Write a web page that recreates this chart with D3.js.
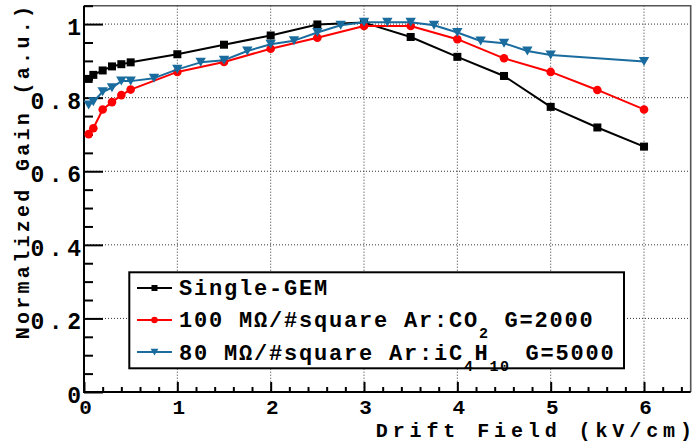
<!DOCTYPE html>
<html>
<head>
<meta charset="utf-8">
<script src="https://cdn.jsdelivr.net/npm/d3@7"></script>
<style>
  body { margin: 0; background: #fff; }
  svg { display: block; }
  text { font-family: "Liberation Mono", "DejaVu Sans Mono", monospace; font-weight: bold; fill: #000; }
</style>
</head>
<body>
<svg id="chart" width="695" height="443"></svg>
<script>
// Drift field scan (kV/cm) and normalized gain for each configuration
const fieldSingle = [0.05, 0.1, 0.2, 0.3, 0.4, 0.5, 1, 1.5, 2, 2.5, 3, 3.5, 4, 4.5, 5, 5.5, 6];
const gainSingle  = [0.851, 0.862, 0.874, 0.885, 0.891, 0.896, 0.918, 0.944, 0.969, 0.999, 1.004, 0.965, 0.911, 0.859, 0.775, 0.719, 0.667];

const fieldCO2 = [0.05, 0.1, 0.2, 0.3, 0.4, 0.5, 1, 1.5, 2, 2.5, 3, 3.5, 4, 4.5, 5, 5.5, 6];
const gainCO2  = [0.701, 0.717, 0.768, 0.788, 0.807, 0.822, 0.870, 0.897, 0.933, 0.963, 0.995, 0.995, 0.959, 0.907, 0.870, 0.821, 0.768];

const fieldIso = [0.05, 0.1, 0.2, 0.3, 0.4, 0.5, 0.75, 1, 1.25, 1.5, 1.75, 2, 2.25, 2.5, 2.75, 3, 3.25, 3.5, 3.75, 4, 4.25, 4.5, 4.75, 5, 6];
const gainIso  = [0.780, 0.789, 0.816, 0.827, 0.845, 0.845, 0.853, 0.877, 0.896, 0.902, 0.927, 0.945, 0.955, 0.977, 0.997, 1.005, 1.005, 1.005, 0.997, 0.977, 0.954, 0.948, 0.927, 0.916, 0.898];

const xTickValues = [0, 1, 2, 3, 4, 5, 6];
const xTickLabels = ["0", "1", "2", "3", "4", "5", "6"];
const yTickValues = [0, 0.2, 0.4, 0.6, 0.8, 1];
const yTickLabels = ["0", "0.2", "0.4", "0.6", "0.8", "1"];

const xTitle = "Drift Field (kV/cm)";
const yTitle = "Normalized Gain (a.u.)";

// Legend entries: text segments, subscript segments flagged
const legendSingle = [{ t: "Single-GEM" }];
const legendCO2 = [{ t: "100 M\u03A9/#square Ar:CO" }, { t: "2", sub: true }, { t: " G=2000" }];
const legendIso = [{ t: "80 M\u03A9/#square Ar:iC" }, { t: "4", sub: true }, { t: "H" }, { t: "10", sub: true }, { t: " G=5000" }];

const colSingle = "#000000";
const colCO2 = "#ff0000";
const colIso = "#1a6c9e";

const svg = d3.select("#chart");
const L = 84, R = 690.7, T = 5.7, B = 392;

const x = d3.scaleLinear().domain([0, 6.5]).range([L, R]);
const y = d3.scaleLinear().domain([0, 1.05]).range([B, T]);

// Spaced text whose last glyph carries no trailing letter-spacing
function spacedText(sel, str, ls) {
  sel.append("tspan").style("letter-spacing", ls + "px").text(str.slice(0, -1));
  sel.append("tspan").style("letter-spacing", "0px").text(str.slice(-1));
  return sel;
}

// Dotted grid at major ticks
const grid = svg.append("g");
grid.selectAll(".gx").data(xTickValues.filter(v => v > 0)).join("line")
  .attr("x1", d => x(d)).attr("x2", d => x(d)).attr("y1", T).attr("y2", B)
  .attr("stroke", "#333").attr("stroke-width", 1).attr("stroke-dasharray", "1,2");
grid.selectAll(".gy").data(yTickValues.filter(v => v > 0)).join("line")
  .attr("x1", L).attr("x2", R).attr("y1", d => y(d)).attr("y2", d => y(d))
  .attr("stroke", "#333").attr("stroke-width", 1).attr("stroke-dasharray", "1,2");

// Frame: top and right edges
svg.append("path")
  .attr("d", `M${L},${T}H${R}V${B}`)
  .attr("fill", "none").attr("stroke", "#555").attr("stroke-width", 1.6);

// Minor ticks
const xMinor = d3.range(0, 6.5001, 0.2).map(v => +v.toFixed(2)).filter(v => Math.abs(v - Math.round(v)) > 1e-6);
const yMinor = d3.range(0, 1.0501, 0.05).map(v => +v.toFixed(2)).filter(v => Math.abs(v * 5 - Math.round(v * 5)) > 1e-6);

const xAxisMinor = svg.append("g").attr("transform", `translate(0,${B})`)
  .call(d3.axisBottom(x).tickValues(xMinor).tickSize(-5).tickFormat(""));
const yAxisMinor = svg.append("g").attr("transform", `translate(${L},0)`)
  .call(d3.axisLeft(y).tickValues(yMinor).tickSize(-9).tickFormat(""));

// Major axes
const xAxis = svg.append("g").attr("transform", `translate(0,${B})`)
  .call(d3.axisBottom(x).tickValues(xTickValues).tickSize(-10)
    .tickFormat((d, i) => xTickLabels[i]));
const yAxis = svg.append("g").attr("transform", `translate(${L},0)`)
  .call(d3.axisLeft(y).tickValues(yTickValues).tickSize(-19)
    .tickFormat((d, i) => yTickLabels[i]));

[xAxisMinor, yAxisMinor, xAxis, yAxis].forEach(g => {
  g.select(".domain").remove();
  g.selectAll(".tick line").attr("stroke", "#000").attr("stroke-width", 2);
});

xAxis.selectAll(".tick text")
  .attr("y", 22).attr("dy", 0).attr("x", 1)
  .style("font-size", "21px").style("font-family", "Liberation Mono").style("font-weight", "bold");

const yLabelLS = 4.6;
yAxis.selectAll(".tick text").each(function (d, i) {
  const t = d3.select(this);
  t.text(null)
    .attr("x", -3).attr("dy", "0.45em")
    .attr("text-anchor", "end")
    .style("font-size", "23px")
    .style("font-family", "Liberation Mono").style("font-weight", "bold");
  if (yTickLabels[i].length > 1) spacedText(t, yTickLabels[i], yLabelLS);
  else t.text(yTickLabels[i]);
});

// Axis lines
svg.append("line").attr("x1", L).attr("x2", R).attr("y1", B).attr("y2", B)
  .attr("stroke", "#000").attr("stroke-width", 2);
svg.append("line").attr("x1", L).attr("x2", L).attr("y1", T).attr("y2", B + 1)
  .attr("stroke", "#000").attr("stroke-width", 2);

// Axis titles
spacedText(svg.append("text")
  .attr("x", 692).attr("y", 436.5)
  .attr("text-anchor", "end")
  .style("font-size", "20px"), xTitle, 4.9);

spacedText(svg.append("text")
  .attr("transform", "translate(29,6) rotate(-90)")
  .attr("text-anchor", "end")
  .style("font-size", "20px"), yTitle, 3.3);

// Marker shapes
function drawMarker(g, kind, cx, cy, color, scale) {
  const s = scale || 1;
  if (kind === "square") {
    g.append("rect").attr("x", cx - 4 * s).attr("y", cy - 4 * s)
      .attr("width", 8 * s).attr("height", 8 * s).attr("fill", color);
  } else if (kind === "circle") {
    g.append("circle").attr("cx", cx).attr("cy", cy).attr("r", 4.3 * s).attr("fill", color);
  } else {
    const w = 5.2 * s, h = 4.5 * s;
    g.append("path")
      .attr("d", `M${cx - w},${cy - h}L${cx + w},${cy - h}L${cx},${cy + h}Z`)
      .attr("fill", color);
  }
}

// Data series
const line = d3.line().x(d => x(d[0])).y(d => y(d[1]));
const series = [
  { f: fieldSingle, g: gainSingle, color: colSingle, marker: "square" },
  { f: fieldCO2, g: gainCO2, color: colCO2, marker: "circle" },
  { f: fieldIso, g: gainIso, color: colIso, marker: "triangle" }
];
series.forEach(s => {
  const pts = s.f.map((v, i) => [v, s.g[i]]);
  const g = svg.append("g");
  g.append("path").datum(pts).attr("d", line)
    .attr("fill", "none").attr("stroke", s.color).attr("stroke-width", 2)
    .attr("stroke-linejoin", "round");
  pts.forEach(p => drawMarker(g, s.marker, x(p[0]), y(p[1]), s.color));
});

// Legend
const lg = svg.append("g");
lg.append("rect").attr("x", 129.3).attr("y", 272.3).attr("width", 494.7).attr("height", 96)
  .attr("fill", "#fff").attr("stroke", "#000").attr("stroke-width", 2);

const legendRows = [
  { segs: legendSingle, color: colSingle, marker: "square", cy: 288, base: 295 },
  { segs: legendCO2, color: colCO2, marker: "circle", cy: 320, base: 327 },
  { segs: legendIso, color: colIso, marker: "triangle", cy: 352, base: 359.5 }
];
legendRows.forEach(r => {
  lg.append("line").attr("x1", 137).attr("x2", 172).attr("y1", r.cy).attr("y2", r.cy)
    .attr("stroke", r.color).attr("stroke-width", 2);
  drawMarker(lg, r.marker, 154.5, r.cy, r.color, 0.75);
  const t = lg.append("text").attr("x", 179).attr("y", r.base)
    .style("font-size", "22px").style("letter-spacing", "1.8px");
  let shifted = false;
  r.segs.forEach(seg => {
    const ts = t.append("tspan").text(seg.t);
    if (seg.sub && !shifted) { ts.attr("dy", 11); shifted = true; }
    else if (!seg.sub && shifted) { ts.attr("dy", -11); shifted = false; }
    if (seg.sub) ts.style("font-size", "15px").style("letter-spacing", "1.5px");
  });
});
</script>
</body>
</html>
